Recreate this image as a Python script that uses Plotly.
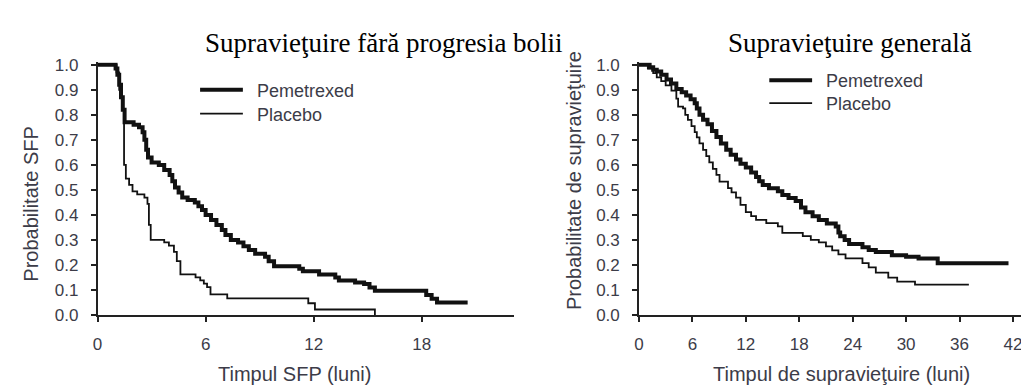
import plotly.graph_objects as go

# ---------------- data ----------------
# Left panel: progression-free survival (months, probability)
pfs_pem_t = [0, 1.0, 1.1, 1.2, 1.3, 1.4, 1.5, 2.0, 2.3, 2.5, 2.6, 2.7, 2.8, 3.0, 3.4, 3.7,
             4.0, 4.15, 4.3, 4.5, 4.7, 5.0, 5.4, 5.6, 5.8, 6.0, 6.3, 6.6, 6.9, 7.1, 7.4,
             7.8, 8.1, 8.4, 8.75, 9.3, 9.5, 9.8, 11.2, 11.4, 12.3, 13.2, 13.4, 14.3, 14.8,
             15.1, 15.4, 18.25, 18.55, 18.85, 20.55]
pfs_pem_s = [1.0, 0.985, 0.96, 0.92, 0.87, 0.82, 0.77, 0.76, 0.75, 0.73, 0.70, 0.66, 0.63,
             0.61, 0.60, 0.58, 0.56, 0.535, 0.51, 0.49, 0.47, 0.46, 0.45, 0.435, 0.42, 0.40,
             0.38, 0.36, 0.34, 0.32, 0.30, 0.29, 0.275, 0.26, 0.245, 0.233, 0.215, 0.195,
             0.185, 0.175, 0.162, 0.15, 0.138, 0.13, 0.124, 0.11, 0.097, 0.08, 0.065, 0.05, 0.05]

pfs_pla_t = [0, 1.05, 1.2, 1.35, 1.47, 1.57, 1.75, 1.94, 2.2, 2.6, 2.77, 2.85, 2.95, 3.7,
             3.96, 4.24, 4.4, 4.6, 5.44, 5.7, 5.9, 6.08, 6.27, 7.2, 11.7, 12.07, 15.4]
pfs_pla_s = [1.0, 0.97, 0.90, 0.82, 0.60, 0.545, 0.52, 0.494, 0.482, 0.469, 0.444, 0.36,
             0.30, 0.29, 0.277, 0.252, 0.215, 0.162, 0.15, 0.138, 0.125, 0.111, 0.082,
             0.066, 0.047, 0.022, 0.0]

# Right panel: overall survival (months, probability)
os_pem_t = [0, 1.2, 1.6, 2.0, 2.5, 3.1, 3.6, 4.2, 4.8, 5.3, 5.8, 6.26, 6.5, 6.8, 7.2, 7.7,
            8.2, 8.7, 9.2, 9.8, 10.3, 10.9, 11.4, 12.0, 12.6, 13.15, 13.5, 13.9, 14.6, 15.6,
            16.1, 16.8, 17.6, 18.2, 18.7, 19.5, 20.2, 21.1, 22.1, 22.4, 22.6, 23.1, 23.6,
            25.1, 25.8, 26.6, 28.4, 30.0, 31.4, 33.55, 41.5]
os_pem_s = [1.0, 0.99, 0.98, 0.973, 0.96, 0.941, 0.925, 0.903, 0.89, 0.877, 0.862, 0.846,
            0.825, 0.80, 0.78, 0.762, 0.735, 0.711, 0.685, 0.66, 0.64, 0.622, 0.605, 0.59,
            0.57, 0.552, 0.535, 0.52, 0.507, 0.495, 0.48, 0.468, 0.456, 0.43, 0.411, 0.395,
            0.38, 0.366, 0.354, 0.33, 0.315, 0.30, 0.284, 0.271, 0.26, 0.252, 0.239, 0.233,
            0.226, 0.207, 0.207]

os_pla_t = [0, 1.0, 1.6, 2.0, 2.5, 3.0, 3.65, 4.2, 4.4, 4.95, 5.2, 5.5, 5.9, 6.26, 6.5, 6.8,
            7.2, 7.56, 7.9, 8.3, 8.7, 9.05, 10.0, 10.4, 10.9, 11.4, 12.0, 12.6, 13.15, 14.3,
            15.6, 16.1, 18.4, 19.3, 20.2, 21.0, 21.7, 22.4, 23.2, 25.1, 25.8, 26.6, 28.0,
            29.0, 31.0, 37.05]
os_pla_s = [1.0, 0.985, 0.967, 0.95, 0.935, 0.918, 0.897, 0.865, 0.833, 0.826, 0.80, 0.78,
            0.755, 0.731, 0.71, 0.686, 0.66, 0.635, 0.61, 0.584, 0.56, 0.533, 0.507, 0.49,
            0.469, 0.44, 0.411, 0.395, 0.38, 0.367, 0.354, 0.328, 0.315, 0.30, 0.29, 0.274,
            0.258, 0.242, 0.226, 0.207, 0.19, 0.169, 0.149, 0.133, 0.121, 0.121]

series_names = ["Pemetrexed", "Placebo"]
panel_titles = ["Supravieţuire fără progresia bolii", "Supravieţuire generală"]
x_titles = ["Timpul SFP (luni)", "Timpul de supravieţuire (luni)"]
y_titles = ["Probabilitate SFP", "Probabilitate de supravieţuire"]
left_xticks = [0, 6, 12, 18]
right_xticks = [0, 6, 12, 18, 24, 30, 36, 42]
yticks = [0.0, 0.1, 0.2, 0.3, 0.4, 0.5, 0.6, 0.7, 0.8, 0.9, 1.0]

# ---------------- layout helpers ----------------
W, H = 1029, 386
def px(x):
    return x / W
def py(y):
    return (H - y) / H

INK = "#111111"
TXT = "#3c3c48"
SANS = "Liberation Sans, Arial, sans-serif"
SERIF = "Liberation Serif, Times New Roman, serif"

fig = go.Figure()
fig.add_trace(go.Scatter(x=pfs_pem_t, y=pfs_pem_s, mode="lines", line_shape="hv",
                         line=dict(color=INK, width=4), name=series_names[0],
                         xaxis="x", yaxis="y", showlegend=False))
fig.add_trace(go.Scatter(x=pfs_pla_t, y=pfs_pla_s, mode="lines", line_shape="hv",
                         line=dict(color=INK, width=1.8), name=series_names[1],
                         xaxis="x", yaxis="y", showlegend=False))
fig.add_trace(go.Scatter(x=os_pem_t, y=os_pem_s, mode="lines", line_shape="hv",
                         line=dict(color=INK, width=4), name=series_names[0],
                         xaxis="x2", yaxis="y2", showlegend=False))
fig.add_trace(go.Scatter(x=os_pla_t, y=os_pla_s, mode="lines", line_shape="hv",
                         line=dict(color=INK, width=1.8), name=series_names[1],
                         xaxis="x2", yaxis="y2", showlegend=False))

y_dom = [py(314), py(50.4)]
axis_common = dict(showline=True, linecolor="#222222", linewidth=1.5, ticks="outside",
                   ticklen=5, tickwidth=1.5, tickcolor="#222222", showgrid=False,
                   zeroline=False, tickfont=dict(family=SANS, size=17, color=TXT))

fig.update_layout(
    width=W, height=H, autosize=False,
    margin=dict(l=0, r=0, t=0, b=0),
    paper_bgcolor="white", plot_bgcolor="white",
    showlegend=False,
    xaxis=dict(domain=[px(85), px(503)], range=[0, 23.1], tickvals=left_xticks,
               anchor="y", ticklabelstandoff=8, **axis_common),
    yaxis=dict(domain=y_dom, range=[0, 1.01], tickvals=yticks, tickformat=".1f",
               anchor="x", ticklabelstandoff=9, **axis_common),
    xaxis2=dict(domain=[px(629), 1.0], range=[0, 44.7], tickvals=right_xticks,
                anchor="y2", ticklabelstandoff=8, **axis_common),
    yaxis2=dict(domain=y_dom, range=[0, 1.01], tickvals=yticks, tickformat=".1f",
                anchor="x2", ticklabelstandoff=9, **axis_common),
)

ann = []
# panel titles
ann.append(dict(text=panel_titles[0], x=px(373), y=py(30), xref="paper", yref="paper",
                xanchor="center", yanchor="middle", showarrow=False,
                font=dict(family=SERIF, size=27, color="#000000")))
ann.append(dict(text=panel_titles[1], x=px(841), y=py(30), xref="paper", yref="paper",
                xanchor="center", yanchor="middle", showarrow=False,
                font=dict(family=SERIF, size=27, color="#000000")))
# axis titles
ann.append(dict(text=x_titles[0], x=px(283), y=py(376), xref="paper", yref="paper",
                xanchor="center", yanchor="middle", showarrow=False,
                font=dict(family=SANS, size=20, color=TXT)))
ann.append(dict(text=x_titles[1], x=px(833), y=py(376), xref="paper", yref="paper",
                xanchor="center", yanchor="middle", showarrow=False,
                font=dict(family=SANS, size=20, color=TXT)))
ann.append(dict(text=y_titles[0], x=px(18), y=py(198), xref="paper", yref="paper",
                xanchor="center", yanchor="middle", showarrow=False, textangle=-90,
                font=dict(family=SANS, size=20, color=TXT)))
ann.append(dict(text=y_titles[1], x=px(564), y=py(174), xref="paper", yref="paper",
                xanchor="center", yanchor="middle", showarrow=False, textangle=-90,
                font=dict(family=SANS, size=20, color=TXT)))

# hand-made legends (sample line + label), one per panel
shapes = []
legend_pos = [(188, 231, 243, [79, 104]), (760, 803, 815, [69, 93])]
widths = [4, 1.8]
for x0, x1, xt, ys in legend_pos:
    for name, yy, w in zip(series_names, ys, widths):
        shapes.append(dict(type="line", xref="paper", yref="paper",
                           x0=px(x0), x1=px(x1), y0=py(yy), y1=py(yy),
                           line=dict(color=INK, width=w)))
        ann.append(dict(text=name, x=px(xt), y=py(yy + 1), xref="paper", yref="paper",
                        xanchor="left", yanchor="middle", showarrow=False,
                        font=dict(family=SANS, size=18, color=TXT)))

fig.update_layout(annotations=ann, shapes=shapes)
fig.write_html("out.html")
